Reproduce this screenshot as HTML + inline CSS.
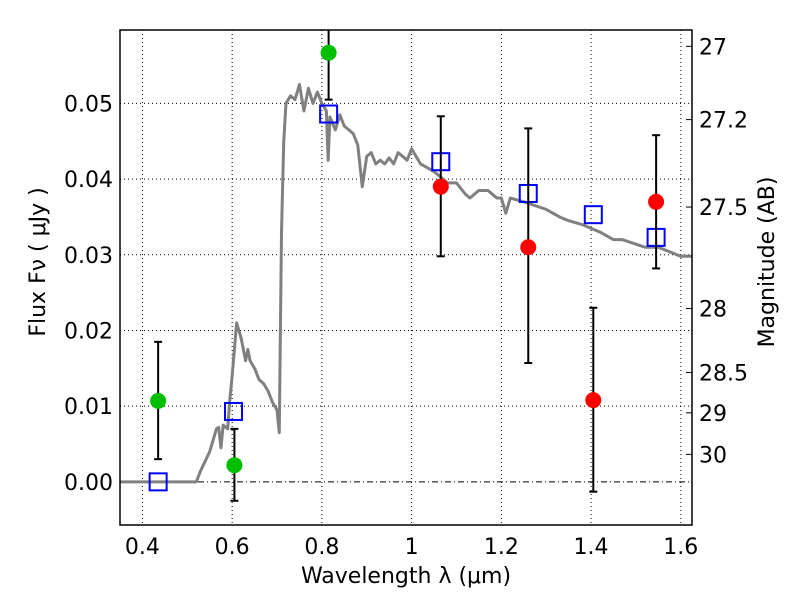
<!DOCTYPE html>
<html><head><meta charset="utf-8"><style>body{margin:0;background:#fff}svg{display:block}text{font-family:"DejaVu Sans","Liberation Sans",sans-serif}</style></head>
<body>
<svg id="c" width="800" height="600"></svg>
<script>
const specX=[0.35,0.52,0.53,0.55,0.565,0.57,0.575,0.58,0.59,0.595,0.60,0.61,0.62,0.63,0.635,0.64,0.65,0.66,0.67,0.68,0.69,0.70,0.705,0.71,0.715,0.72,0.73,0.74,0.75,0.76,0.77,0.78,0.79,0.80,0.81,0.814,0.818,0.83,0.84,0.85,0.86,0.87,0.88,0.89,0.90,0.91,0.92,0.93,0.94,0.95,0.96,0.97,0.98,0.99,1.0,1.02,1.05,1.08,1.1,1.12,1.13,1.15,1.17,1.19,1.2,1.21,1.22,1.25,1.3,1.33,1.35,1.38,1.42,1.45,1.47,1.52,1.55,1.6,1.625];
const specY=[0,0,0.0015,0.004,0.007,0.0072,0.0045,0.0075,0.007,0.011,0.014,0.021,0.019,0.016,0.0175,0.016,0.015,0.0135,0.013,0.012,0.0105,0.0095,0.0065,0.033,0.045,0.050,0.051,0.0505,0.0525,0.049,0.052,0.050,0.0515,0.050,0.049,0.0425,0.0482,0.0465,0.0485,0.047,0.0465,0.046,0.0445,0.039,0.043,0.0435,0.042,0.0425,0.042,0.0428,0.042,0.0435,0.043,0.0425,0.044,0.042,0.041,0.0395,0.0395,0.038,0.0375,0.0385,0.0385,0.0375,0.0375,0.0355,0.0375,0.037,0.036,0.035,0.0345,0.034,0.033,0.032,0.032,0.031,0.031,0.0298,0.0298];
const greenX=[0.435,0.605,0.815], greenY=[0.0107,0.0022,0.0567], greenLo=[0.003,-0.0025,0.0505], greenHi=[0.0185,0.007,0.065];
const redX=[1.065,1.26,1.405,1.545], redY=[0.039,0.031,0.0108,0.037], redLo=[0.0298,0.0157,-0.0013,0.0282], redHi=[0.0483,0.0467,0.023,0.0458];
const sqX=[0.435,0.603,0.815,1.065,1.26,1.405,1.545], sqY=[0,0.0093,0.0486,0.0423,0.0381,0.0353,0.0323];
const xTicks=[0.4,0.6,0.8,1.0,1.2,1.4,1.6], xLabels=["0.4","0.6","0.8","1","1.2","1.4","1.6"];
const yTicks=[0,0.01,0.02,0.03,0.04,0.05], yLabels=["0.00","0.01","0.02","0.03","0.04","0.05"];
const magTicks=[27,27.2,27.5,28,28.5,29,30];
const L=120,R=692,T=30,B=525,x0=0.35,x1=1.625,y0=-0.0057,y1=0.0597;
const X=v=>L+(v-x0)/(x1-x0)*(R-L), Y=v=>B-(v-y0)/(y1-y0)*(B-T);
const s=document.getElementById('c');const NS='http://www.w3.org/2000/svg';
function el(t,a,txt){const e=document.createElementNS(NS,t);for(const k in a)e.setAttribute(k,a[k]);if(txt!==undefined)e.textContent=txt;s.appendChild(e);return e;}
xTicks.forEach((v,i)=>{let e=el('line',{x1:X(v),x2:X(v),y1:T,y2:B,stroke:'#000','stroke-dasharray':'1,3','stroke-width':1});

e=el('text',{x:X(v),y:B+29,'font-size':22,'text-anchor':'middle'},xLabels[i]);
});
yTicks.forEach((v,i)=>{let e=el('line',{x1:L,x2:R,y1:Y(v),y2:Y(v),stroke:'#000','stroke-dasharray':v===0?'6,3,1,3':'1,3','stroke-width':1});

e=el('text',{x:L-7,y:Y(v)+8,'font-size':22,'text-anchor':'end'},yLabels[i]);
});
magTicks.forEach(m=>{const f=Math.pow(10,(23.9-m)/2.5);const y=Y(f);
let e=el('line',{x1:R-6,x2:R,y1:y,y2:y,stroke:'#000'});
e=el('text',{x:R+7,y:y+8,'font-size':22},String(m));});
let p=el('polyline',{points:specX.map((v,i)=>X(v)+','+Y(specY[i])).join(' '),fill:'none',stroke:'#808080','stroke-width':3,'stroke-linejoin':'round'});

function pts(xs,ys,lo,hi,col,name){xs.forEach((v,i)=>{let e=el('line',{x1:X(v),x2:X(v),y1:Y(lo[i]),y2:Math.max(T,Y(hi[i])),stroke:'#000','stroke-width':2});

[lo[i],hi[i]].forEach(q=>{if(Y(q)>T){const c=el('line',{x1:X(v)-4,x2:X(v)+4,y1:Y(q),y2:Y(q),stroke:'#000','stroke-width':2});}});
e=el('circle',{cx:X(v),cy:Y(ys[i]),r:8,fill:col});});}
sqX.forEach((v,i)=>{const e=el('rect',{x:X(v)-8.5,y:Y(sqY[i])-8.5,width:17,height:17,fill:'none',stroke:'#0000ff','stroke-width':2});
});
pts(greenX,greenY,greenLo,greenHi,'#00bf00','green-detection');
pts(redX,redY,redLo,redHi,'#ff0000','red-detection');
let fr=el('rect',{x:L,y:T,width:R-L,height:B-T,fill:'none',stroke:'#000','stroke-width':1.5});
let t=el('text',{x:406,y:583,'font-size':22,'text-anchor':'middle'},'Wavelength  λ (μm)');
t=el('text',{x:0,y:0,'font-size':22,'text-anchor':'middle',transform:'translate(45,262) rotate(-90)'},'Flux  Fν  ( μJy )');
t=el('text',{x:0,y:0,'font-size':22,'text-anchor':'middle',transform:'translate(774,262) rotate(-90)'},'Magnitude (AB)');
</script>
</body></html>
